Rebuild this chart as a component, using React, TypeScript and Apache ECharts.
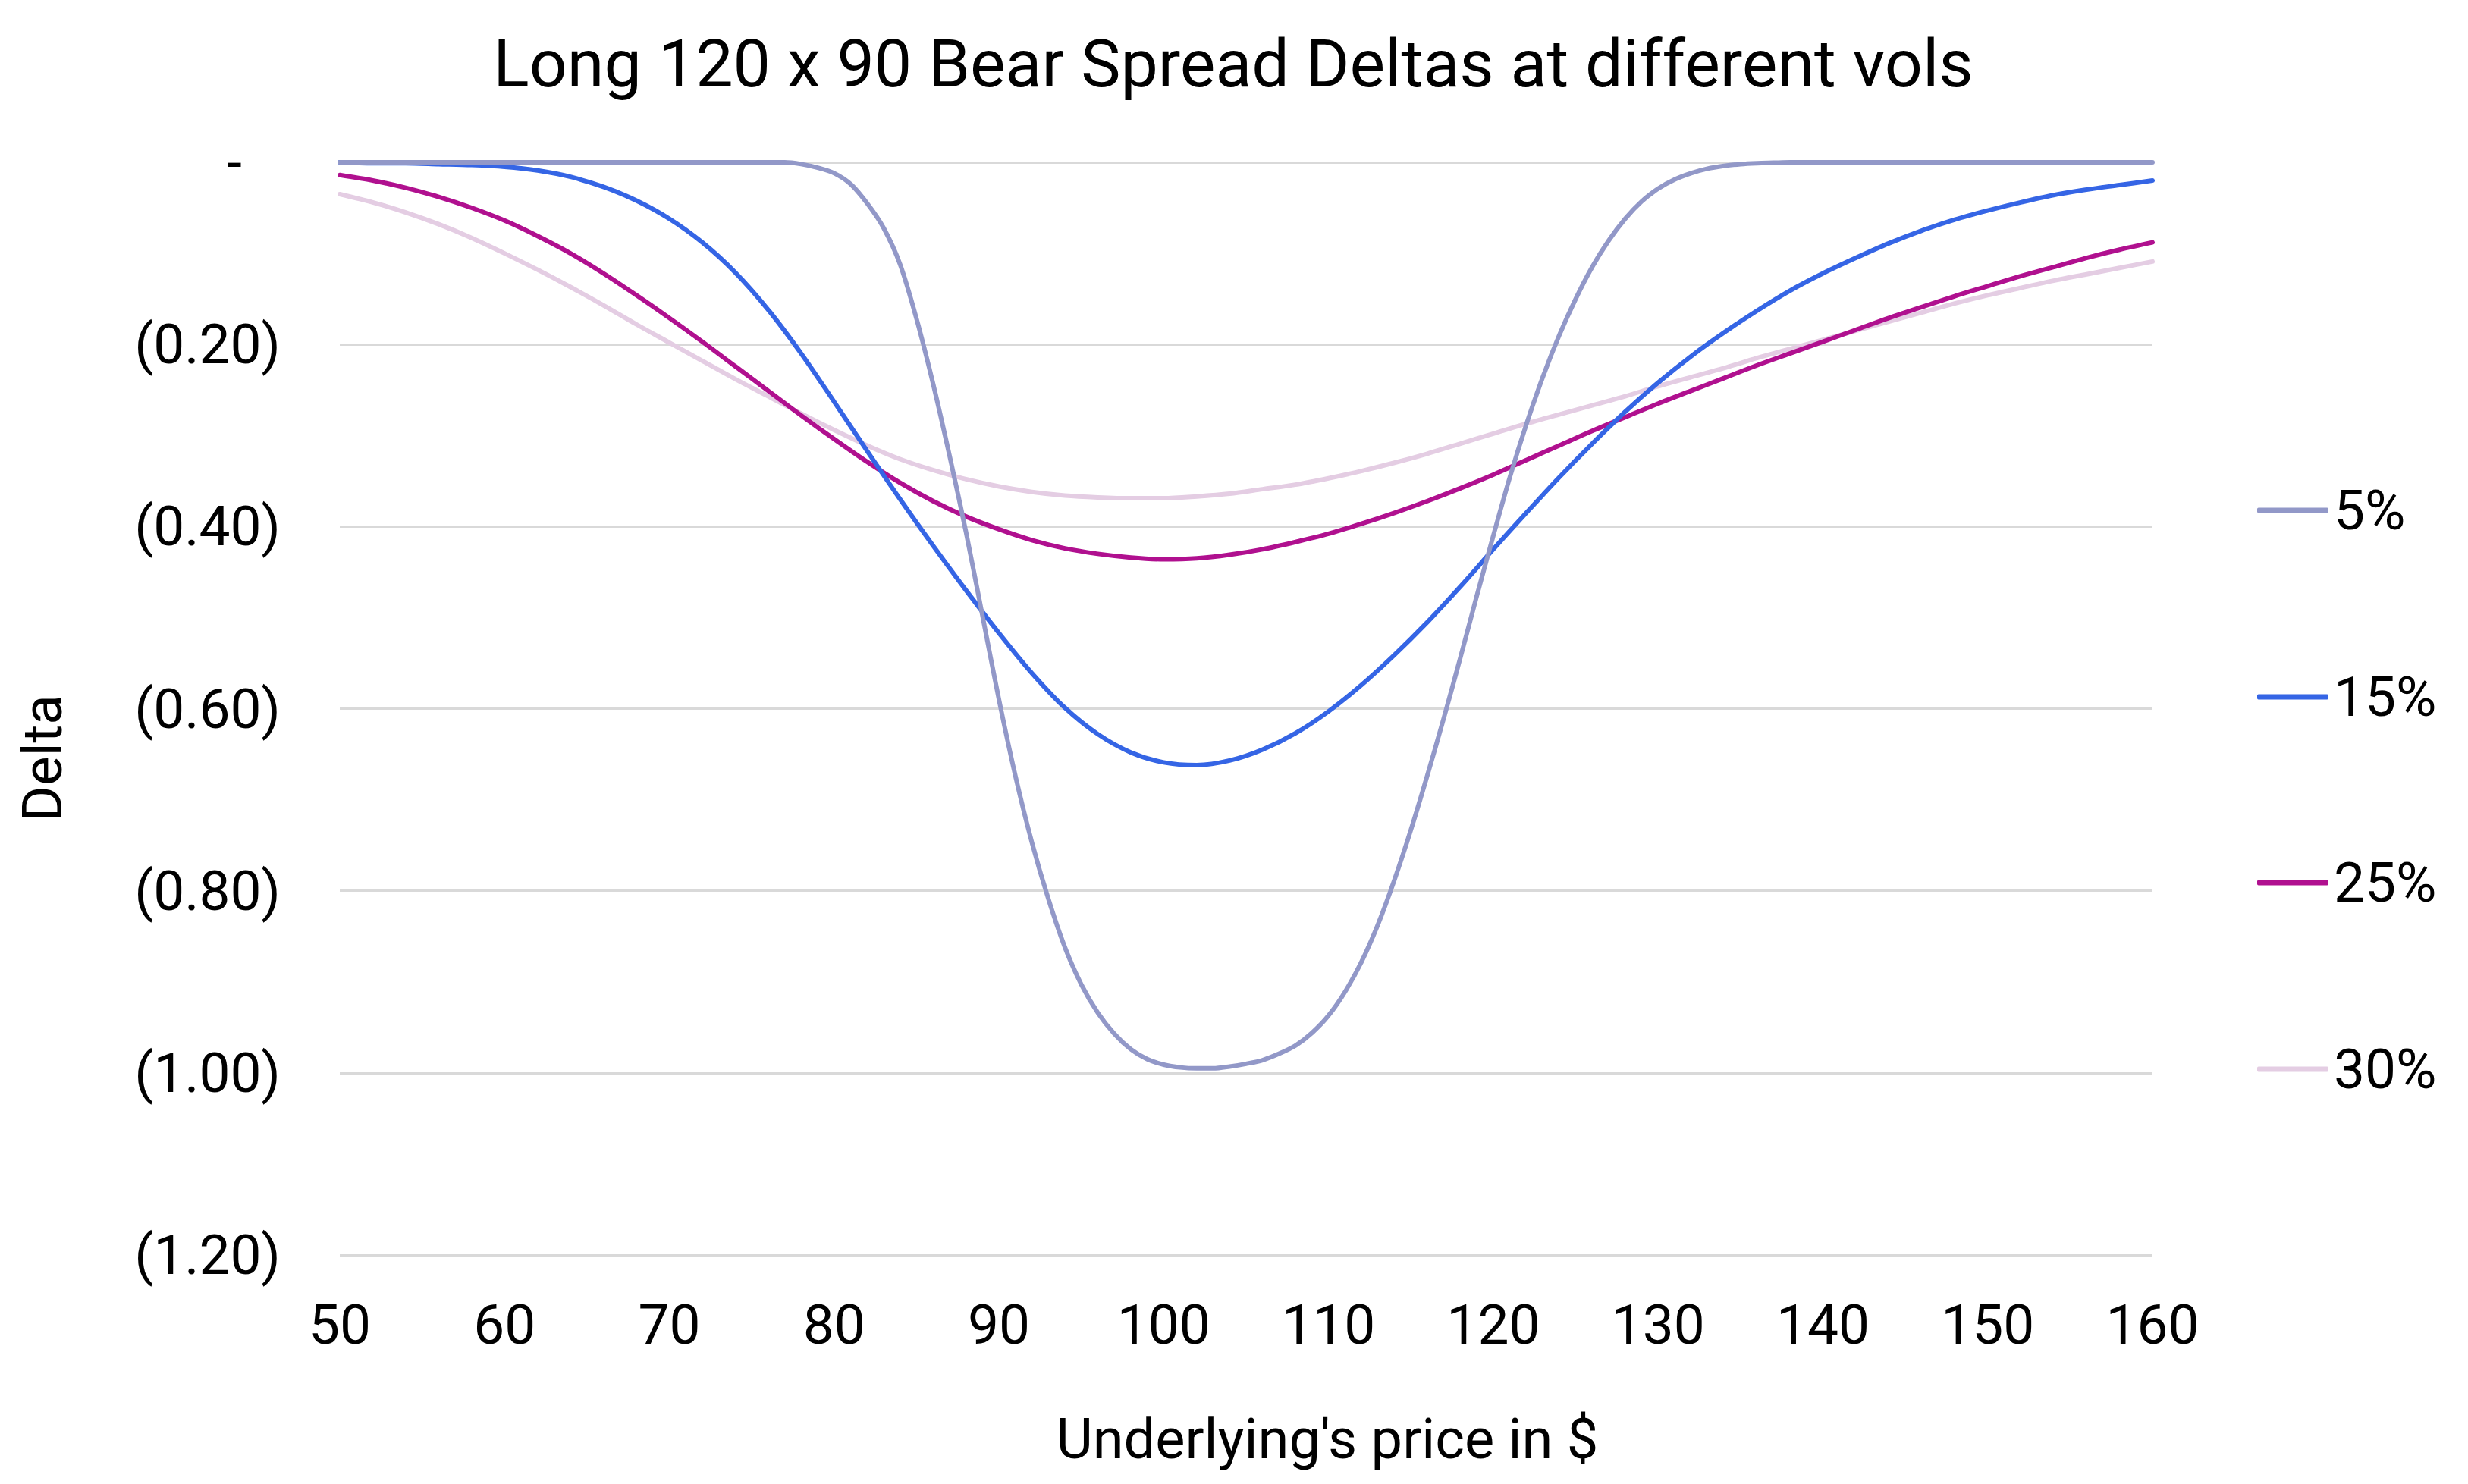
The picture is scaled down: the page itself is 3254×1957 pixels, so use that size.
import React, { useEffect, useRef } from "react";
import * as echarts from "echarts";

const TITLE = "Long 120 x 90 Bear Spread Deltas at different vols";
const X_NAME = "Underlying's price in $";
const Y_NAME = "Delta";

// x positions for the 15%, 25% and 30% series
const prices = [
  50, 52, 54, 56, 58, 60, 62, 64, 66, 68, 70, 72, 74, 76, 78, 80, 82, 84, 86, 88,
  90, 92, 94, 96, 98, 100, 102, 104, 106, 108, 110, 112, 114, 116, 118, 120, 122,
  124, 126, 128, 130, 132, 134, 136, 138, 140, 142, 144, 146, 148, 150, 152, 154,
  156, 158, 160,
];

// x positions for the 5% series (finer, the curve is steep)
const prices5 = [
  50, 51, 52, 53, 54, 55, 56, 57, 58, 59, 60, 61, 62, 63, 64, 65, 66, 67, 68, 69,
  70, 71, 72, 73, 74, 75, 76, 77, 78, 79, 80, 81, 82, 83, 84, 85, 86, 87, 88, 89,
  90, 91, 92, 93, 94, 95, 96, 97, 98, 99, 100, 101, 102, 103, 104, 105, 106, 107,
  108, 109, 110, 111, 112, 113, 114, 115, 116, 117, 118, 119, 120, 121, 122, 123,
  124, 125, 126, 127, 128, 129, 130, 131, 132, 133, 134, 135, 136, 137, 138, 139,
  140, 141, 142, 143, 144, 145, 146, 147, 148, 149, 150, 151, 152, 153, 154, 155,
  156, 157, 158, 159, 160,
];

const vol5 = [
  0, 0, 0, 0, 0, 0, 0, 0, 0, 0, 0, 0, 0, 0, 0, 0, 0, 0, 0, 0, 0, 0, 0, 0, 0, 0, 0, 0,
  -0.002, -0.006, -0.012, -0.024, -0.045, -0.072, -0.112, -0.172, -0.243, -0.322,
  -0.406, -0.498, -0.59, -0.674, -0.747, -0.809, -0.862, -0.903, -0.934, -0.957,
  -0.974, -0.985, -0.991, -0.994, -0.995, -0.995, -0.993, -0.99, -0.986, -0.979,
  -0.97, -0.956, -0.937, -0.911, -0.878, -0.837, -0.788, -0.733, -0.673, -0.61,
  -0.544, -0.476, -0.41, -0.346, -0.288, -0.236, -0.19, -0.15, -0.115, -0.086,
  -0.062, -0.043, -0.029, -0.019, -0.012, -0.007, -0.004, -0.002, -0.001, -0.0005,
  0, 0, 0, 0, 0, 0, 0, 0, 0, 0, 0, 0, 0, 0, 0, 0, 0, 0, 0, 0, 0, 0, 0,
];

const vol15 = [
  0, -0.001, -0.001, -0.002, -0.003, -0.005, -0.009, -0.016, -0.027, -0.042,
  -0.062, -0.088, -0.121, -0.162, -0.21, -0.263, -0.317, -0.37, -0.421, -0.47,
  -0.517, -0.561, -0.599, -0.628, -0.648, -0.659, -0.662, -0.657, -0.645, -0.627,
  -0.603, -0.574, -0.541, -0.505, -0.466, -0.425, -0.385, -0.346, -0.309, -0.274,
  -0.242, -0.213, -0.187, -0.163, -0.141, -0.122, -0.105, -0.089, -0.075, -0.063,
  -0.053, -0.044, -0.036, -0.03, -0.025, -0.02,
];

const vol25 = [
  -0.014, -0.02, -0.028, -0.038, -0.05, -0.064, -0.081, -0.1, -0.122, -0.146,
  -0.171, -0.197, -0.224, -0.251, -0.278, -0.304, -0.329, -0.352, -0.372, -0.389,
  -0.403, -0.415, -0.424, -0.43, -0.434, -0.436, -0.435, -0.431, -0.425, -0.417,
  -0.408, -0.397, -0.385, -0.372, -0.358, -0.343, -0.327, -0.311, -0.295, -0.28,
  -0.265, -0.251, -0.237, -0.223, -0.21, -0.197, -0.184, -0.171, -0.159, -0.147,
  -0.136, -0.125, -0.115, -0.105, -0.096, -0.088,
];

const vol30 = [
  -0.035, -0.044, -0.055, -0.068, -0.083, -0.1, -0.118, -0.137, -0.157, -0.178,
  -0.198, -0.218, -0.238, -0.257, -0.276, -0.294, -0.311, -0.326, -0.338, -0.348,
  -0.356, -0.362, -0.366, -0.368, -0.369, -0.369, -0.367, -0.364, -0.359, -0.354,
  -0.347, -0.339, -0.33, -0.32, -0.309, -0.298, -0.287, -0.277, -0.267, -0.257,
  -0.246, -0.236, -0.226, -0.215, -0.205, -0.195, -0.185, -0.175, -0.165, -0.155,
  -0.146, -0.138, -0.13, -0.123, -0.116, -0.109,
];

const seriesNames = ["5%", "15%", "25%", "30%"];
const seriesX = [prices5, prices, prices, prices];
const seriesValues = [vol5, vol15, vol25, vol30];
const seriesColors = ["#9298c8", "#3565e5", "#b0108f", "#e4cde3"];
const legendCenters = [673, 919, 1164, 1410];

const FONT = "Roboto";
const FS = 73;

export default function App() {
  const ref = useRef<HTMLDivElement>(null);

  useEffect(() => {
    if (!ref.current) return;
    const chart = echarts.init(ref.current, undefined, { renderer: "svg" });

    const series = seriesNames.map((name, si) => ({
      name,
      type: "line",
      data: seriesX[si].map((p, i) => [p, seriesValues[si][i]]),
      showSymbol: false,
      symbol: "none",
      smooth: 0.3,
      lineStyle: { color: seriesColors[si], width: 6, cap: "round", join: "round" },
      itemStyle: { color: seriesColors[si] },
      z: 10 - si,
    }));

    const legends = seriesNames.map((name, si) => ({
      data: [name],
      orient: "vertical",
      left: 2976,
      top: legendCenters[si] - 40,
      icon: "roundRect",
      itemWidth: 94,
      itemHeight: 7,
      itemGap: 0,
      padding: 0,
      textStyle: {
        fontFamily: FONT,
        fontSize: FS,
        color: "#000000",
        lineHeight: 80,
        padding: [0, 0, 0, 2],
      },
      selectedMode: false,
    }));

    chart.setOption({
      animation: false,
      backgroundColor: "#ffffff",
      title: {
        text: TITLE,
        left: 1621,
        top: 34,
        textAlign: "center",
        textStyle: {
          fontFamily: FONT,
          fontSize: 88,
          fontWeight: "normal",
          color: "#000000",
        },
      },
      legend: legends,
      grid: { left: 448, top: 214, width: 2390, height: 1441 },
      xAxis: {
        type: "value",
        min: 50,
        max: 160,
        interval: 10,
        axisLine: { show: false },
        axisTick: { show: false },
        splitLine: { show: false },
        axisLabel: {
          fontFamily: FONT,
          fontSize: FS,
          color: "#000000",
          margin: 55,
        },
      },
      yAxis: {
        type: "value",
        min: -1.2,
        max: 0,
        interval: 0.2,
        axisLine: { show: false },
        axisTick: { show: false },
        splitLine: { show: true, lineStyle: { color: "#d9d9d9", width: 3 } },
        axisLabel: {
          fontFamily: FONT,
          fontSize: FS,
          color: "#000000",
          margin: 78,
          formatter: (v: number) =>
            Math.abs(v) < 1e-9 ? "{z|-}" : "(" + Math.abs(v).toFixed(2) + ")",
          rich: {
            z: {
              fontFamily: FONT,
              fontSize: FS,
              color: "#000000",
              padding: [0, 51, 0, 0],
            },
          },
        },
      },
      graphic: [
        {
          type: "text",
          x: 56,
          y: 1000,
          rotation: Math.PI / 2,
          style: {
            text: Y_NAME,
            fontFamily: FONT,
            fontSize: FS,
            fill: "#000000",
            textAlign: "center",
            textVerticalAlign: "middle",
          },
        },
        {
          type: "text",
          x: 1750,
          y: 1897,
          style: {
            text: X_NAME,
            fontFamily: FONT,
            fontSize: 74,
            fill: "#000000",
            textAlign: "center",
            textVerticalAlign: "middle",
          },
        },
      ],
      series,
    });

    return () => {
      chart.dispose();
    };
  }, []);

  return (
    <div
      ref={ref}
      style={{ position: "fixed", left: 0, top: 0, width: 3254, height: 1957 }}
    />
  );
}
